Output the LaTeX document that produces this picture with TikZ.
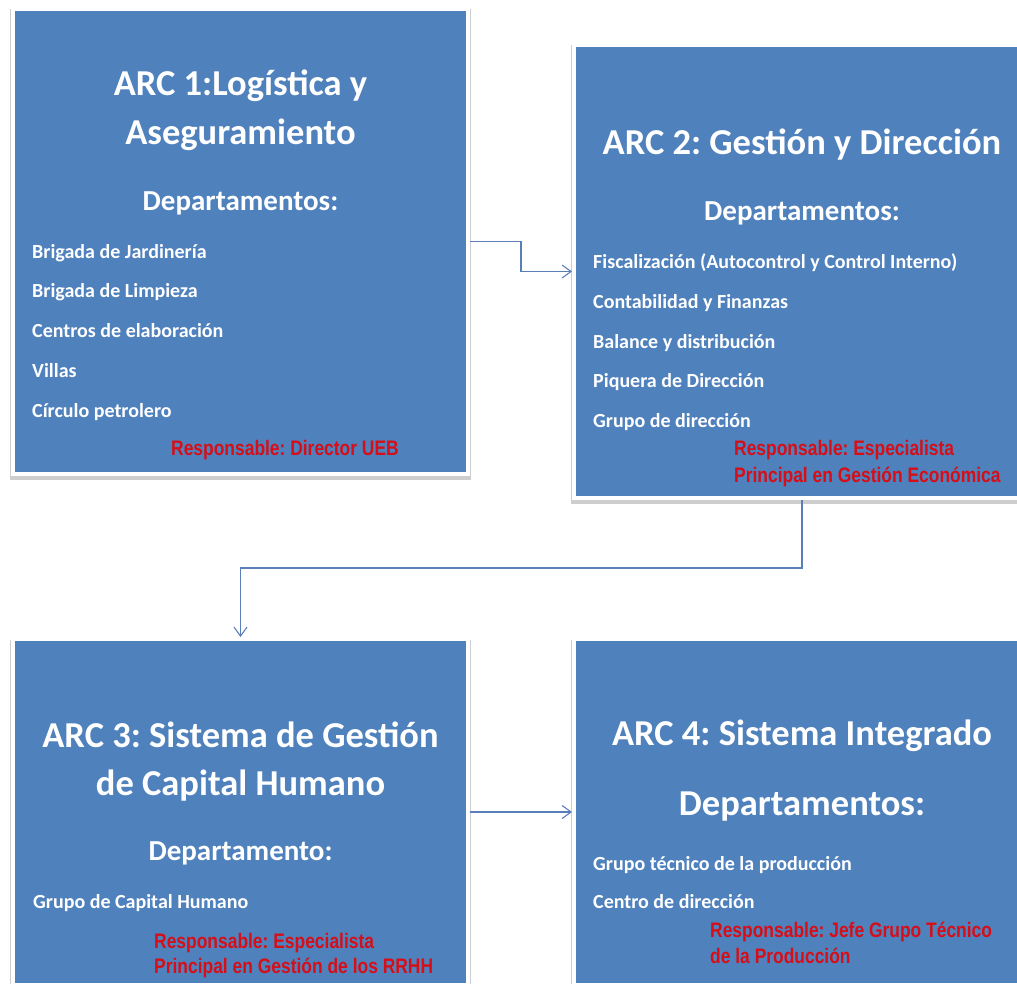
\documentclass[tikz,border=0pt]{standalone}
\usepackage{fontspec}
\setmainfont{Carlito}
\newfontfamily\respfont{Liberation Sans Bold}[FakeStretch=0.83]
\frenchspacing
\usetikzlibrary{arrows.meta,shadows}
\definecolor{boxblue}{HTML}{4F81BD}
\definecolor{linkblue}{HTML}{5A7FB8}
\definecolor{respred}{RGB}{214,14,24}
\tikzset{
  arcbox/.style={draw=white, line width=4pt, fill=boxblue, inner sep=0pt,
    drop shadow={shadow xshift=0pt, shadow yshift=-3pt, shadow scale=1.012,
      opacity=0.35, fill=black!55}},
  titletext/.style={anchor=base, inner sep=0pt, text=white,
    font=\fontsize{36.5}{44}\selectfont\bfseries},
  depttext/.style={anchor=base, inner sep=0pt, text=white,
    font=\fontsize{29}{35}\selectfont\bfseries},
  bigdepttext/.style={anchor=base, inner sep=0pt, text=white,
    font=\fontsize{36.5}{44}\selectfont\bfseries},
  itemtext/.style={anchor=base west, inner sep=0pt, text=white,
    font=\fontsize{20}{24}\selectfont\bfseries},
  resptext/.style={anchor=base west, inner sep=0pt, text=respred,
    font=\respfont\fontsize{21}{25}\selectfont},
  link/.style={draw=linkblue, line width=1.1pt,
    -{Straight Barb[length=9pt,width=13pt]}},
}
\begin{document}
\begin{tikzpicture}[x=1pt,y=-1pt]
\useasboundingbox (0,0) rectangle (1017,983);

% the four blocks
\node[arcbox, minimum width=455pt, minimum height=465pt] (b1) at (240.5,241.5) {};
\node[arcbox, minimum width=456pt, minimum height=453pt] (b2) at (802,271.5) {};
\node[arcbox, minimum width=455pt, minimum height=346pt] (b3) at (240.5,812) {};
\node[arcbox, minimum width=456pt, minimum height=346pt] (b4) at (802,812) {};

% connectors between blocks
\draw[link] (b1.east) -- ++(51,0) |- (b2.west);
\draw[link] (b2.south) -- ++(0,68) -| (b3.north);
\draw[link] (b3.east) -- (b4.west);

% block 1
\node[titletext] (t1a) at (240.5,95) {ARC 1:Logística y};
\node[titletext] (t1b) at (240.5,144) {Aseguramiento};
\node[depttext] (d1) at (240.5,210) {Departamentos:};
\node[itemtext] (i1a) at (32,258) {Brigada de Jardinería};
\node[itemtext] (i1b) at (32,297) {Brigada de Limpieza};
\node[itemtext] (i1c) at (32,337) {Centros de elaboración};
\node[itemtext] (i1d) at (32,377) {Villas};
\node[itemtext] (i1e) at (32,417) {Círculo petrolero};
\node[resptext] (r1) at (171,455) {Responsable: Director UEB};

% block 2
\node[titletext] (t2) at (802,154) {ARC 2: Gestión y Dirección};
\node[depttext] (d2) at (802,220) {Departamentos:};
\node[itemtext] (i2a) at (593,268) {Fiscalización (Autocontrol y Control Interno)};
\node[itemtext] (i2b) at (593,308) {Contabilidad y Finanzas};
\node[itemtext] (i2c) at (593,348) {Balance y distribución};
\node[itemtext] (i2d) at (593,387) {Piquera de Dirección};
\node[itemtext] (i2e) at (593,427) {Grupo de dirección};
\node[resptext] (r2a) at (734,455) {Responsable: Especialista};
\node[resptext] (r2b) at (734,482) {Principal en Gestión Económica};

% block 3
\node[titletext] (t3a) at (240.5,747) {ARC 3: Sistema de Gestión};
\node[titletext] (t3b) at (240.5,795) {de Capital Humano};
\node[depttext] (d3) at (240.5,860) {Departamento:};
\node[itemtext] (i3a) at (33,908) {Grupo de Capital Humano};
\node[resptext] (r3a) at (154,948) {Responsable: Especialista};
\node[resptext] (r3b) at (154,973) {Principal en Gestión de los RRHH};

% block 4
\node[titletext] (t4) at (802,745) {ARC 4: Sistema Integrado};
\node[bigdepttext] (d4) at (802,815) {Departamentos:};
\node[itemtext] (i4a) at (593,870) {Grupo técnico de la producción};
\node[itemtext] (i4b) at (593,908) {Centro de dirección};
\node[resptext] (r4a) at (710,937) {Responsable: Jefe Grupo Técnico};
\node[resptext] (r4b) at (710,963) {de la Producción};
\end{tikzpicture}
\end{document}
